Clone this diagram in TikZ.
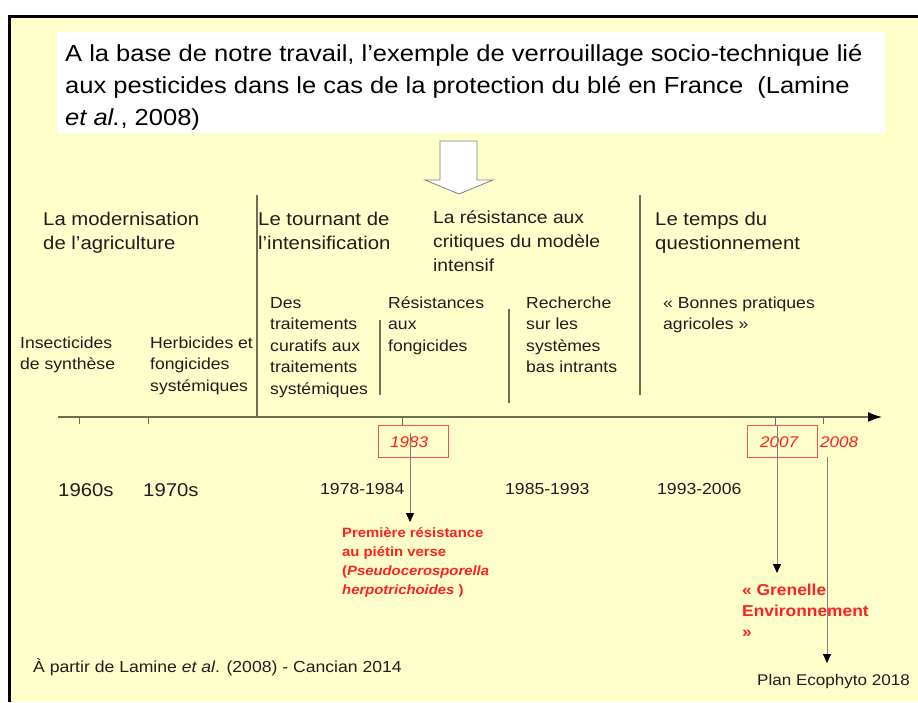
\documentclass[tikz,border=0pt]{standalone}
\usepackage{fontspec}
\setmainfont{Liberation Sans}[FakeStretch=1.1]
\usetikzlibrary{arrows.meta}
\definecolor{bg}{HTML}{FFFFCC}
\definecolor{ln}{HTML}{6E6E58}
\definecolor{rd}{HTML}{FF2020}
\definecolor{tx}{HTML}{1E1E1E}
\newcommand\fsz[2]{\fontsize{#1}{#2}\selectfont}
\begin{document}
\begin{tikzpicture}[x=1pt,y=-1pt,
  txt/.style 2 args={anchor=north west, inner sep=0pt, align=left, text=tx, font=\fsz{#1}{#2}},
  one/.style={anchor=base west, inner sep=0pt, text=tx},
  sep/.style={draw=ln, line width=1.3pt},
  tick/.style={draw=ln, line width=1pt},
  redbox/.style={draw=rd!80, line width=0.8pt},
  arr/.style={draw=gray, line width=0.8pt, -{Triangle[length=9pt,width=8pt,color=black]}}]
\useasboundingbox (0,0) rectangle (918,702);
\fill[white] (0,0) rectangle (918,702);
\fill[bg] (9,16) rectangle (918,702);
\draw[line width=3pt] (9,702) -- (9,16) -- (918,16);
% title
\fill[white] (57,32) rectangle (885,133);
\node[txt={23.2}{32}, text=black] (title) at (65,38.6)
 {\strut A la base de notre travail, l’exemple de verrouillage socio-technique lié\\aux pesticides dans le cas de la protection du blé en France~ (Lamine\\\textit{et al.}, 2008)};
\draw[gray, fill=white, line width=0.8pt] (440,141) -- (477,141) -- (477,180) -- (493,180) -- (459,194) -- (425,180) -- (440,180) -- cycle;
% headers
\node[txt={18.5}{24}] (mod) at (43,208.2) {\strut La modernisation\\de l’agriculture};
\node[txt={18.5}{24}] (tour) at (258,208.2) {\strut Le tournant de\\l’intensification};
\node[txt={17.5}{24}] (resh) at (433,206.2) {\strut La résistance aux\\critiques du modèle\\intensif};
\node[txt={18.5}{24}] (temps) at (655,208.2) {\strut Le temps du\\questionnement};
% body
\node[txt={16}{21.5}] (ins) at (20,332.95) {\strut Insecticides\\de synthèse};
\node[txt={16}{21.5}] (herb) at (150,332.95) {\strut Herbicides et\\fongicides\\systémiques};
\node[txt={16}{21.5}] (des) at (270,292.95) {\strut Des\\traitements\\curatifs aux\\traitements\\systémiques};
\node[txt={16}{21.5}] (resf) at (388,292.95) {\strut Résistances\\aux\\fongicides};
\node[txt={16}{21.5}] (rech) at (526,292.95) {\strut Recherche\\sur les\\systèmes\\bas intrants};
\node[txt={16}{21.5}] (bon) at (663,292.95) {\strut « Bonnes pratiques\\agricoles »};
% separators
\draw[sep] (257,195) -- (257,417);
\draw[sep] (640,195) -- (640,395);
\draw[sep] (380,320) -- (380,395);
\draw[sep] (509,309) -- (509,403);
% axis
\coordinate (axs) at (58,417);
\coordinate (axe) at (882,417);
\draw[draw=ln, line width=1.3pt, -{Latex[length=14pt,width=10pt,color=black]}] (axs) -- (axe);
\foreach \x/\b in {79/424,148/424,402/425,775/425,823/424} \draw[tick] (\x,417) -- (\x,\b);
% years
\node[one, font=\fsz{18.5}{22}] (y60) at (58,496) {1960s};
\node[one, font=\fsz{18.5}{22}] (y70) at (143,496) {1970s};
\node[one, font=\fsz{16}{20}] (y78) at (320,494) {1978-1984};
\node[one, font=\fsz{16}{20}] (y85) at (505,494) {1985-1993};
\node[one, font=\fsz{16}{20}] (y93) at (657,494) {1993-2006};
% red boxes
\draw[redbox] (378,425) rectangle (448,457);
\node[one, text=rd, font=\fsz{15.5}{20}\itshape] (t83) at (390,447) {1983};
\draw[redbox] (747,425) rectangle (817,457);
\node[one, text=rd, font=\fsz{15.5}{20}\itshape] (t07) at (760,447) {2007};
\node[one, text=rd, font=\fsz{15.5}{20}\itshape] (t08) at (820,447) {2008};
% consequences
\node[txt={13.5}{19}, text=rd, font=\fsz{13.5}{19}\bfseries] (prem) at (342,523.7) {\strut Première résistance\\au piétin verse\\(\textit{Pseudocerosporella}\\\textit{herpotrichoides} )};
\node[txt={15.8}{21}, text=rd, font=\fsz{15.8}{21}\bfseries] (gren) at (742,580.3) {\strut « Grenelle\\Environnement\\»};
\node[one, font=\fsz{15.5}{20}] (eco) at (757,685) {Plan Ecophyto 2018};
\node[one, font=\fsz{16}{20}] (src) at (33,672) {À partir de Lamine \textit{et al}. (2008) - Cancian 2014};
% arrows
\coordinate (s83) at (410,433);
\coordinate (e83) at (410,522);
\coordinate (s07) at (777,425);
\coordinate (e07) at (777,573);
\coordinate (s08) at (827,457);
\coordinate (e08) at (827,663);
\draw[arr] (s83) -- (e83);
\draw[arr] (s07) -- (e07);
\draw[arr] (s08) -- (e08);
\end{tikzpicture}
\end{document}
